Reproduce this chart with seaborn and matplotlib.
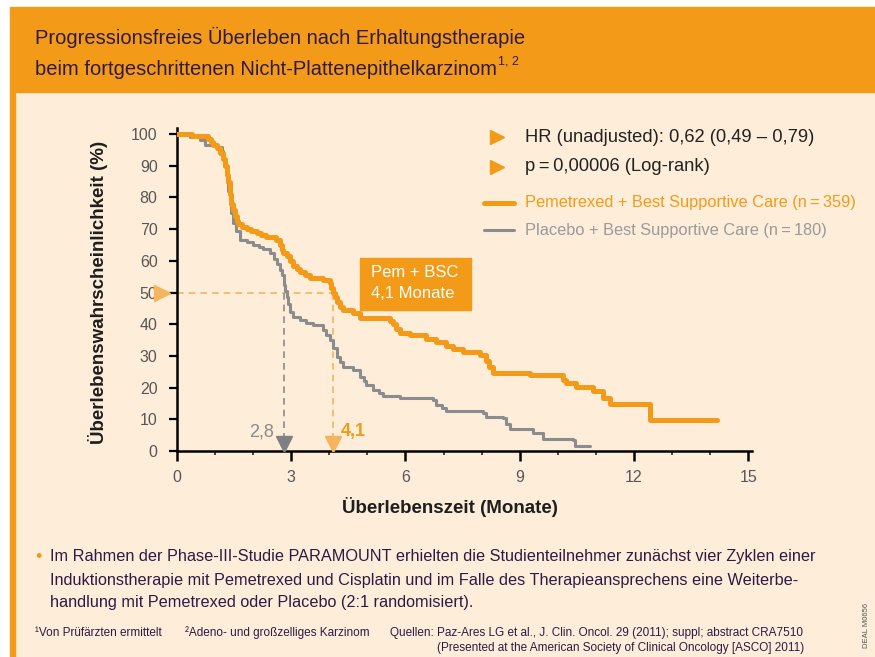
import numpy as np
import pandas as pd
import seaborn as sns
import matplotlib.pyplot as plt
from matplotlib.patches import Rectangle
from matplotlib.lines import Line2D

# Kaplan-Meier steps (months, % surviving after the step)
pem_time = [0, 0.4, 0.82, 0.9, 0.95, 1.05, 1.13, 1.2, 1.26, 1.3, 1.34, 1.38, 1.43, 1.48, 1.52,
            1.57, 1.61, 1.7, 1.83, 1.95, 2.09, 2.2, 2.35, 2.61, 2.7, 2.75, 2.79, 2.88, 2.96,
            3.05, 3.15, 3.23, 3.35, 3.49, 3.83, 4.01, 4.05, 4.1, 4.15, 4.19, 4.28, 4.36, 4.62,
            4.8, 5.59, 5.68, 5.75, 5.85, 6.11, 6.55, 6.81, 7.07, 7.25, 7.51, 7.95, 8.12, 8.2,
            8.3, 9.26, 10.14, 10.22, 10.49, 10.92, 11.19, 11.36, 12.41, 14.17]
pem_surv = [100, 99.3, 98.5, 97.5, 96.5, 95.5, 94, 92, 90, 87, 85, 81, 78, 76, 74,
            72.5, 71.5, 70.8, 70, 69.4, 68.8, 68, 67.4, 66.5, 65, 63.5, 62.5, 61.5, 60,
            58.5, 57.3, 56.5, 55.5, 54.5, 54, 53, 51.5, 50, 48.5, 47, 45.5, 44.5, 43.5,
            42, 41, 40, 38.5, 37.3, 36.5, 35.4, 34.5, 33.2, 32.3, 31.2, 30.3, 28.4, 26.5,
            24.5, 24, 22.5, 21.5, 20.3, 19, 16.8, 14.8, 9.7, 9.7]

pbo_time = [0, 0.34, 0.6, 0.73, 1.04, 1.17, 1.22, 1.26, 1.3, 1.35, 1.39, 1.43, 1.47, 1.56,
            1.65, 1.83, 2.0, 2.15, 2.26, 2.44, 2.55, 2.62, 2.7, 2.75, 2.8, 2.83, 2.88, 2.92,
            2.98, 3.05, 3.23, 3.4, 3.58, 3.84, 3.92, 4.01, 4.1, 4.19, 4.28, 4.36, 4.62, 4.8,
            4.9, 4.97, 5.15, 5.3, 5.41, 5.85, 6.72, 6.81, 6.95, 7.07, 8.04, 8.12, 8.56, 8.65,
            8.74, 9.35, 9.61, 10.4, 10.44, 10.84]
pbo_surv = [100, 99, 98, 96.5, 96, 94.5, 92, 90, 86, 82, 79, 75, 72, 69.5,
            66.6, 66, 65, 64.5, 63.8, 62.4, 60.5, 59, 57, 55.5, 52.5, 50.5, 48.5, 46.5,
            44, 42.4, 41.3, 40.5, 39.7, 38.2, 36.5, 35, 32.5, 29.8, 28, 26.6, 25.6, 23.5,
            22, 20.8, 19.2, 18.2, 17.4, 16.6, 16.1, 14.5, 13.6, 12.7, 12, 10.8, 10.4, 8.5,
            6.8, 5.6, 3.7, 3.5, 1.6, 1.6]

median_pem = 4.1
median_pbo = 2.8
x_ticks = [0, 3, 6, 9, 12, 15]
y_ticks = [0, 10, 20, 30, 40, 50, 60, 70, 80, 90, 100]

ORANGE = "#F39B18"
LIGHT_OR = "#F6B45C"
GRAY = "#8A8C8E"
DARK = "#2E1A45"
CREAM = "#FDEDD9"

W, H = 875, 657


def fx(px):
    return px / W


def fy(py):
    return 1 - py / H


sns.set_theme(style="ticks")
plt.rcParams["font.family"] = ["Liberation Sans", "DejaVu Sans"]

fig = plt.figure(figsize=(8.75, 6.57), dpi=100, facecolor="white")

# background panels
fig.add_artist(Rectangle((fx(15), fy(657)), fx(860), 565 / H, transform=fig.transFigure,
                         color=CREAM, zorder=0))
fig.add_artist(Rectangle((fx(10), fy(92)), fx(865), 85 / H, transform=fig.transFigure,
                         color=ORANGE, zorder=0))
fig.add_artist(Rectangle((fx(10), fy(657)), fx(5), 565 / H, transform=fig.transFigure,
                         color=ORANGE, zorder=0))

# title
fig.text(fx(35), fy(44), "Progressionsfreies Überleben nach Erhaltungstherapie",
         fontsize=14.5, color=DARK, va="baseline")
t2 = fig.text(fx(35), fy(75), "beim fortgeschrittenen Nicht-Plattenepithelkarzinom",
              fontsize=14.5, color=DARK, va="baseline")
fig.canvas.draw()
bb = t2.get_window_extent()
fig.text(fx(bb.x1 + 1), fy(64), "1, 2", fontsize=9, color=DARK, va="baseline")

# axes
ax = fig.add_axes([fx(177), fy(451), fx(752 - 177), (451 - 127.7) / H])
ax.set_facecolor("none")

df = pd.concat([
    pd.DataFrame({"Monate": pem_time, "Survival": pem_surv, "Arm": "Pemetrexed"}),
    pd.DataFrame({"Monate": pbo_time, "Survival": pbo_surv, "Arm": "Placebo"}),
])
sns.lineplot(data=df[df.Arm == "Placebo"], x="Monate", y="Survival", ax=ax,
             color=GRAY, linewidth=2.2, drawstyle="steps-post", zorder=3)
sns.lineplot(data=df[df.Arm == "Pemetrexed"], x="Monate", y="Survival", ax=ax,
             color=ORANGE, linewidth=3.6, drawstyle="steps-post", zorder=4,
             solid_capstyle="round")

ax.set_xlim(0, 15.1)
ax.set_ylim(0, 102)
ax.set_xticks(x_ticks)
ax.set_xticks(np.arange(0, 16, 1), minor=True)
ax.set_yticks(y_ticks)
ax.tick_params(axis="both", labelsize=11.5, labelcolor="#57575A", color="black")
ax.tick_params(axis="x", which="major", length=7, width=1.8, pad=7)
ax.tick_params(axis="x", which="minor", length=3, width=1.2)
ax.tick_params(axis="y", length=6, width=1.6, pad=8)
for s in ["top", "right"]:
    ax.spines[s].set_visible(False)
for s in ["left", "bottom"]:
    ax.spines[s].set_linewidth(1.8)
    ax.spines[s].set_color("black")

ax.set_xlabel("Überlebenszeit (Monate)", fontsize=13.5, fontweight="bold", color="#1E1E1E")
ax.set_ylabel("Überlebenswahrscheinlichkeit (%)", fontsize=13.5, fontweight="bold",
              color="#1E1E1E")
ax.xaxis.set_label_coords(0.475, -0.142)
ax.yaxis.set_label_coords(-0.12, 0.49)

# median guides
dash = (0, (4, 3))
ax.plot([0, median_pem], [50, 50], color=LIGHT_OR, lw=1.2, linestyle=dash, zorder=2)
ax.plot([median_pem, median_pem], [50, 3.5], color=LIGHT_OR, lw=1.2, linestyle=dash, zorder=2)
ax.plot([median_pbo, median_pbo], [50, 3.5], color=GRAY, lw=1.2, linestyle=dash, zorder=2)
ax.plot([median_pbo], [2.2], marker="v", markersize=11, color="#7E8083", zorder=5)
ax.plot([median_pem], [2.2], marker="v", markersize=11, color=LIGHT_OR, zorder=5)
ax.plot([-0.39], [50], marker=">", markersize=11, color=LIGHT_OR, clip_on=False, zorder=5)
ax.text(median_pbo - 0.25, 6, "2,8", ha="right", va="center", fontsize=13, color="#8A8A8C")
ax.text(median_pem + 0.2, 6, "4,1", ha="left", va="center", fontsize=13, color=ORANGE,
        fontweight="bold")

# annotation box
ax.add_patch(Rectangle((4.81, 44.5), 2.91, 16.4, color=ORANGE, zorder=6))
ax.text(5.1, 56.4, "Pem + BSC", color="white", fontsize=12, va="center", zorder=7)
ax.text(5.1, 49.8, f"{median_pem:.1f}".replace(".", ",") + " Monate", color="white",
        fontsize=12, va="center", zorder=7)

# legend block
for yy in (137, 167):
    fig.add_artist(Line2D([fx(497)], [fy(yy)], marker=">", markersize=10, color=ORANGE,
                          transform=fig.transFigure))
fig.text(fx(525), fy(137), "HR (unadjusted): 0,62 (0,49 – 0,79)", fontsize=13.2,
         color="#222222", va="center")
fig.text(fx(525), fy(167), "p\u2009=\u20090,00006 (Log-rank)", fontsize=13.2,
         color="#222222", va="center")
fig.add_artist(Line2D([fx(484), fx(514)], [fy(203), fy(203)], color=ORANGE, lw=3.6,
                      transform=fig.transFigure))
fig.add_artist(Line2D([fx(484), fx(514)], [fy(230), fy(230)], color=GRAY, lw=2.2,
                      transform=fig.transFigure))
fig.text(fx(525), fy(203), "Pemetrexed + Best Supportive Care (n\u2009=\u2009359)",
         fontsize=11.8, color=ORANGE, va="center")
fig.text(fx(525), fy(230), "Placebo + Best Supportive Care (n\u2009=\u2009180)",
         fontsize=11.8, color="#9A9A9C", va="center")

# body text
fig.text(fx(38), fy(557), "•", fontsize=13, color=ORANGE, va="center", ha="center")
body = ["Im Rahmen der Phase-III-Studie PARAMOUNT erhielten die Studienteilnehmer zunächst vier Zyklen einer",
        "Induktionstherapie mit Pemetrexed und Cisplatin und im Falle des Therapieansprechens eine Weiterbe-",
        "handlung mit Pemetrexed oder Placebo (2:1 randomisiert)."]
for i, line in enumerate(body):
    fig.text(fx(50), fy(557 + 23 * i), line, fontsize=11.7, color=DARK, va="center")

fig.text(fx(35), fy(633), "¹Von Prüfärzten ermittelt", fontsize=8.5, color=DARK, va="center")
fig.text(fx(185), fy(633), "²Adeno- und großzelliges Karzinom", fontsize=8.5, color=DARK,
         va="center")
fig.text(fx(390), fy(633),
         "Quellen: Paz-Ares LG et al., J. Clin. Oncol. 29 (2011); suppl; abstract CRA7510",
         fontsize=8.5, color=DARK, va="center")
fig.text(fx(437), fy(648),
         "(Presented at the American Society of Clinical Oncology [ASCO] 2011)",
         fontsize=8.5, color=DARK, va="center")
fig.text(fx(866), fy(625), "DEAL M0656", fontsize=5.5, color="#555555",
         rotation=90, va="center", ha="center")

fig.savefig("out.png", dpi=100, facecolor="white")
